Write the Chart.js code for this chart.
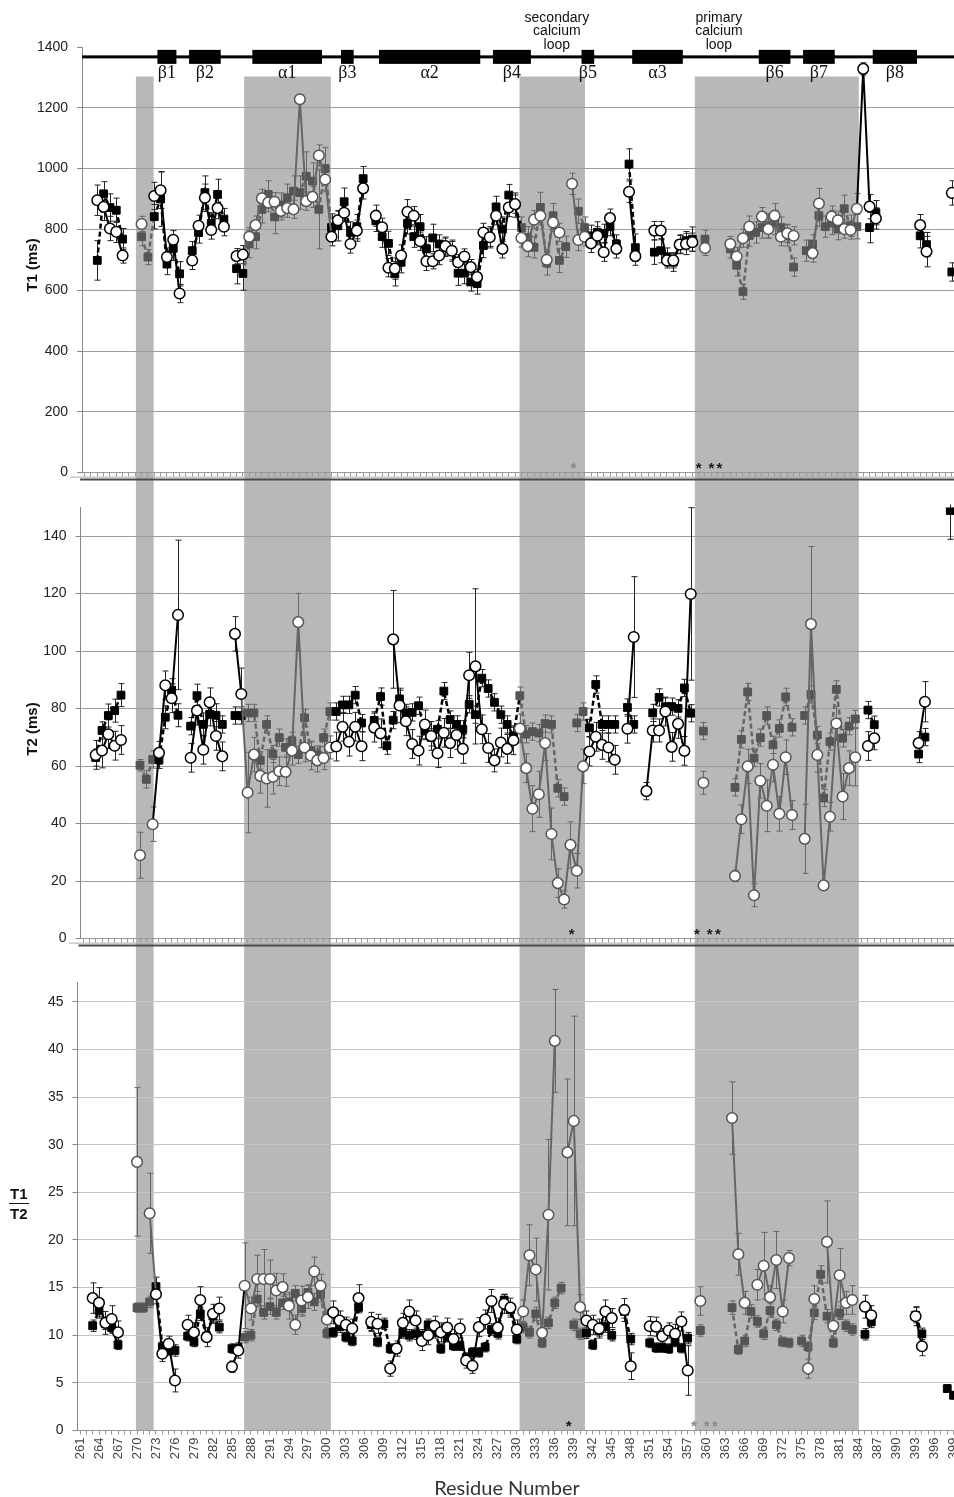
<!DOCTYPE html>
<html>
<head>
<meta charset="utf-8">
<title>T1, T2 and T1/T2 by residue</title>
<script src="https://cdn.jsdelivr.net/npm/chart.js@4.4.1/dist/chart.umd.min.js"></script>
<style>
  html, body { margin: 0; padding: 0; background: #fff; }
  body { width: 954px; height: 1497px; position: relative; overflow: hidden; font-family: "Liberation Sans", Arial, sans-serif; }
  canvas { position: absolute; left: 0; }
  #c1 { top: 0; }
  #c2 { top: 490px; }
  #c3 { top: 956px; }
  .ytitle { position: absolute; font-weight: bold; font-size: 15px; color: #111; white-space: nowrap;
            transform: translate(-50%, -50%) rotate(-90deg); }
  #frac { position: absolute; left: 9px; top: 1184px; font-weight: bold; font-size: 15px; color: #111; text-align: center; line-height: 19px; }
  #frac .num { border-bottom: 1.5px solid #111; padding: 0 1px; }
  #xtitle { position: absolute; left: 397px; width: 220px; top: 1475px; text-align: center; font-family: Lato, "Open Sans", sans-serif; font-size: 20px; color: #333; }
</style>
</head>
<body>
<canvas id="c1" width="1000" height="490"></canvas>
<canvas id="c2" width="1000" height="466"></canvas>
<canvas id="c3" width="1000" height="541"></canvas>
<div class="ytitle" style="left:31px; top:265px;">T1 (ms)</div>
<div class="ytitle" style="left:31px; top:729px;">T2 (ms)</div>
<div id="frac"><div class="num">T1</div><div>T2</div></div>
<div id="xtitle">Residue Number</div>

<script>
const _ = null;

// residues 263..399, one entry per residue
const firstResidue = 263, lastResidue = 399;
const residues = Array.from({ length: lastResidue - firstResidue + 1 }, (_v, i) => firstResidue + i);

const xTickLabels = [261, 264, 267, 270, 273, 276, 279, 282, 285, 288, 291, 294, 297, 300, 303, 306,
  309, 312, 315, 318, 321, 324, 327, 330, 333, 336, 339, 342, 345, 348, 351, 354, 357, 360, 363, 366,
  369, 372, 375, 378, 381, 384, 387, 390, 393, 396, 399];
const t1Ticks = [0, 200, 400, 600, 800, 1000, 1200, 1400];
const t2Ticks = [0, 20, 40, 60, 80, 100, 120, 140];
const ratioTicks = [0, 5, 10, 15, 20, 25, 30, 35, 40, 45];

// T1 (ms)
const t1Filled = [
  /*263*/ 698, 917, 872, 863, 768, _, _, 776, 709, 842,
  /*273*/ 900, 686, 738, 654, _, 730, 790, 921, 820, 915,
  /*283*/ 834, _, 671, 655, 752, 776, 866, 915, 841, 880,
  /*293*/ 904, 926, 921, 975, 959, 866, 1000, 806, 812, 891,
  /*303*/ 790, 809, 967, _, 828, 776, 754, 654, 692, 820,
  /*313*/ 776, 809, 736, 772, 752, 741, 730, 656, 656, 627,
  /*323*/ 622, 747, 774, 874, 801, 913, 880, 806, 774, 741,
  /*333*/ 872, 690, 845, 698, 743, _, 860, 806, 779, 790,
  /*343*/ 787, 809, 752, _, 1015, 740, _, _, 725, 730,
  /*353*/ 709, 692, 752, 763, 768, _, 768, _, _, _,
  /*363*/ 736, 682, 595, 780, 790, 806, 812, 823, 806, 780,
  /*373*/ 676, _, 730, 752, 845, 809, 823, 801, 868, 812,
  /*383*/ 809, _, 806, 855, _, _, _, _, _, _,
  /*393*/ 779, 750, _, _, _, 660, _
];
const t1Open = [
  /*263*/ 896, 874, 803, 792, 714, _, _, 818, _, 910,
  /*273*/ 929, 709, 766, 589, _, 698, 812, 904, 798, 870,
  /*283*/ 809, _, 712, 717, 776, 814, 902, 888, 891, 861,
  /*293*/ 870, 866, 1228, 893, 907, 1043, 964, 776, 830, 855,
  /*303*/ 752, 796, 935, _, 845, 807, 674, 671, 714, 858,
  /*313*/ 845, 761, 695, 695, 714, 745, 730, 692, 711, 676,
  /*323*/ 643, 790, 774, 845, 736, 872, 883, 772, 745, 832,
  /*333*/ 845, 700, 823, 790, _, 950, 765, 776, 754, 779,
  /*343*/ 725, 837, 736, _, 924, 712, _, _, 796, 796,
  /*353*/ 698, 698, 750, 752, 758, _, 739, _, _, _,
  /*363*/ 752, 711, 771, 809, _, 842, 801, 845, 776, 787,
  /*373*/ 779, _, _, 722, 885, _, 842, 830, 801, 798,
  /*383*/ 868, 1328, 875, 836, _, _, _, _, _, _,
  /*393*/ 814, 727, _, _, _, 920, _
];
const t1FilledErr = [
  /*263*/ 65, 40, 45, 40, 35, _, _, 30, 25, 40,
  /*273*/ 90, 35, 40, 40, _, 30, 35, 55, 35, 50,
  /*283*/ 35, _, 50, 55, 45, 40, 45, 45, 55, 40,
  /*293*/ 45, 50, 55, 80, 60, 130, 70, 45, 50, 45,
  /*303*/ 35, 40, 40, _, 35, 35, 40, 40, 35, 35,
  /*313*/ 35, 40, 40, 45, 30, 30, 35, 40, 35, 30,
  /*323*/ 35, 40, 35, 35, 40, 35, 40, 35, 35, 35,
  /*333*/ 50, 40, 40, 40, 35, _, 40, 35, 35, 35,
  /*343*/ 30, 30, 30, _, 50, 45, _, _, 40, 40,
  /*353*/ 30, 30, 30, 30, 40, _, 30, _, _, _,
  /*363*/ 30, 35, 25, 35, 35, 35, 40, 40, 35, 35,
  /*373*/ 30, _, 35, 30, 35, 35, 40, 35, 45, 35,
  /*383*/ 40, _, 50, 40, _, _, _, _, _, _,
  /*393*/ 40, 40, _, _, _, 30, _
];
const t1OpenErr = [
  /*263*/ 50, 45, 40, 35, 25, _, _, 25, _, 45,
  /*273*/ 60, 30, 30, 30, _, 30, 35, 45, 30, 35,
  /*283*/ 30, _, 25, 30, 30, 30, 30, 30, 30, 30,
  /*293*/ 30, 30, 15, 30, 35, 35, 40, 30, 30, 30,
  /*303*/ 30, 35, 35, _, 35, 30, 30, 35, 35, 40,
  /*313*/ 30, 30, 30, 25, 30, 30, 30, 25, 25, 25,
  /*323*/ 25, 30, 30, 30, 30, 30, 30, 30, 35, 30,
  /*333*/ 30, 25, 30, 30, _, 35, 35, 30, 30, 30,
  /*343*/ 30, 30, 30, _, 35, 30, _, _, 30, 30,
  /*353*/ 25, 25, 30, 35, 30, _, 25, _, _, _,
  /*363*/ 25, 30, 30, 35, _, 30, 30, 40, 30, 30,
  /*373*/ 30, _, _, 30, 50, _, 35, 30, 30, 30,
  /*383*/ 50, 20, 40, 35, _, _, _, _, _, _,
  /*393*/ 35, 50, _, _, _, 40, _
];

// T2 (ms)
const t2Filled = [
  /*263*/ 63, 72.4, 77.6, 79.3, 84.7, _, _, 60.3, 55.4, 62.3,
  /*273*/ 62.2, 77, 86.4, 77.7, _, 73.9, 84.5, 74.5, 78, 77.7,
  /*283*/ 74.5, _, 77.6, 77.6, 78.5, 78.5, 62, 74.5, 64.2, 69.9,
  /*293*/ 66.5, 68.8, 64, 76.8, 65.4, 64, 69.9, 79, 79, 81.3,
  /*303*/ 81.3, 84.7, 75, _, 75.9, 84.2, 67.1, 76, 83.4, 78.5,
  /*313*/ 78.7, 81, 72.2, 70, 72.8, 86.1, 76.2, 74.5, 72.8, 81.5,
  /*323*/ 77.9, 90.6, 87, 82.2, 77.9, 74.5, 70.5, 84.5, 71.1, 72,
  /*333*/ 71.5, 74.8, 74.5, 52.3, 49.4, _, 75, 79, 73.3, 88.4,
  /*343*/ 74.5, 74.5, 74.5, _, 80.4, 74.5, _, _, 78.5, 83.9,
  /*353*/ 80.7, 80.7, 80.1, 87.2, 78.4, _, 72.2, _, _, _,
  /*363*/ _, 52.6, 69.3, 85.8, 62.8, 69.9, 77.6, 67.4, 73.1, 84.1,
  /*373*/ 73.5, _, 77.6, 84.9, 70.8, 48.9, 68.5, 86.7, 69.7, 73.9,
  /*383*/ 76.4, _, 79.5, 74.4, _, _, _, _, _, _,
  /*393*/ 64.2, 70.1, _, _, _, 148.9, _
];
const t2Open = [
  /*263*/ 63.9, 65.4, 71.1, 67.1, 69.1, _, _, 29, _, 39.8,
  /*273*/ 64.6, 88.1, 83.6, 112.6, _, 62.9, 79.3, 65.7, 82.2, 70.5,
  /*283*/ 63.4, _, 106, 85.1, 50.8, 64, 56.6, 55.7, 56.3, 58.2,
  /*293*/ 58, 65.4, 110.1, 66.5, 63.7, 62, 62.8, 66.5, 66.8, 73.7,
  /*303*/ 68.5, 73.7, 66.9, _, 73.4, 71.4, _, 104.1, 81.1, 75.6,
  /*313*/ 67.7, 65.4, 74.5, 70.5, 64.5, 71.6, 68, 70.8, 66, 91.6,
  /*323*/ 94.7, 72.8, 66.3, 62, 68.2, 66, 69, 73.1, 59.3, 45.2,
  /*333*/ 50.2, 68, 36.4, 19.3, 13.6, 32.6, 23.6, 59.9, 65.1, 70.2,
  /*343*/ 67.4, 66.5, 62.2, _, 73, 104.9, _, 51.3, 72.4, 72.4,
  /*353*/ 79, 66.7, 74.7, 65.3, 119.9, _, 54.2, _, _, _,
  /*363*/ _, 21.8, 41.5, 59.9, 15.1, 54.9, 46.2, 60.5, 43.4, 63.1,
  /*373*/ 43, _, 34.7, 109.4, 63.9, 18.5, 42.4, 74.8, 49.4, 59.3,
  /*383*/ 63.1, _, 67, 69.7, _, _, _, _, _, _,
  /*393*/ 68, 82.4, _, _, _, _, _
];
const t2FilledErr = [
  /*263*/ 3, 3, 4, 4, 4, _, _, 2, 3, 3,
  /*273*/ 3, 4, 4, 4, _, 3, 4, 4, 4, 4,
  /*283*/ 3, _, 3, 3, 3, 3, 3, 3, 3, 3,
  /*293*/ 3, 3, 3, 3, 3, 3, 3, 3, 3, 3,
  /*303*/ 3, 3, 3, _, 3, 3, 3, 3, 3, 3,
  /*313*/ 3, 3, 3, 3, 3, 3, 3, 3, 3, 3,
  /*323*/ 3, 3, 3, 3, 3, 3, 3, 3, 3, 3,
  /*333*/ 3, 3, 3, 3, 3, _, 3, 3, 3, 3,
  /*343*/ 3, 3, 3, _, 3, 3, _, _, 3, 3,
  /*353*/ 3, 3, 3, 3, 3, _, 3, _, _, _,
  /*363*/ _, 3, 3, 3, 3, 3, 3, 3, 3, 3,
  /*373*/ 3, _, 3, 3, 3, 3, 3, 3, 3, 3,
  /*383*/ 3, _, 3, 3, _, _, _, _, _, _,
  /*393*/ 3, 3, _, _, _, 10, _
];
const t2OpenErr = [
  /*263*/ 5, 6, 5, 5, 5, _, _, 8, _, 6,
  /*273*/ 4, 5, 5, 26, _, 5, 5, 5, 5, 5,
  /*283*/ 5, _, 6, 9, 14, 6, 6, 10, 6, 5,
  /*293*/ 5, 5, 10, 5, 5, 4, 4, 4, 5, 5,
  /*303*/ 5, 5, 5, _, 5, 5, _, 17, 6, 5,
  /*313*/ 5, 5, 5, 5, 5, 5, 5, 5, 5, 8,
  /*323*/ 27, 5, 5, 4, 5, 5, 5, 5, 5, 8,
  /*333*/ 8, 6, 9, 5, 3, 8, 6, 6, 5, 5,
  /*343*/ 5, 5, 5, _, 5, 21, _, 3, 4, 4,
  /*353*/ 5, 5, 5, 5, 30, _, 4, _, _, _,
  /*363*/ _, 2, 5, 6, 4, 6, 9, 6, 6, 6,
  /*373*/ 5, _, 12, 27, 6, 1.5, 5, 6, 8, 6,
  /*383*/ 10, _, 5, 4, _, _, _, _, _, _,
  /*393*/ 4, 7, _, _, _, _, _
];

// T1/T2
const ratioFilled = [
  /*263*/ 11.0, 12.6, 11.2, 10.8, 9.0, _, _, 12.9, 12.9, 13.5,
  /*273*/ 15.1, 8.8, 8.4, 8.4, _, 9.9, 9.3, 12.25, 9.9, 12.0,
  /*283*/ 10.85, _, 8.6, 8.6, 9.8, 10.0, 13.8, 12.4, 13.0, 12.4,
  /*293*/ 13.4, 13.5, 14.4, 12.8, 14.5, 13.5, 14.3, 10.2, 10.3, 10.9,
  /*303*/ 9.8, 9.4, 12.95, _, 11.1, 9.3, 11.2, 8.6, 8.6, 10.3,
  /*313*/ 10.0, 10.15, 10.0, 11.1, 10.3, 8.6, 9.8, 8.9, 8.9, 7.6,
  /*323*/ 8.2, 8.2, 8.75, 10.6, 10.2, 13.7, 12.7, 9.6, 10.85, 10.3,
  /*333*/ 12.25, 9.2, 11.3, 13.4, 14.95, _, 11.1, 10.15, 10.25, 9.0,
  /*343*/ 10.5, 10.9, 10.0, _, 12.5, 9.6, _, _, 9.2, 8.7,
  /*353*/ 8.7, 8.6, 9.3, 8.65, 9.7, _, 10.5, _, _, _,
  /*363*/ _, 12.9, 8.5, 9.4, 12.5, 11.45, 10.15, 12.6, 11.1, 9.3,
  /*373*/ 9.2, _, 9.4, 8.8, 12.35, 16.4, 12.0, 9.2, 12.35, 11.0,
  /*383*/ 10.6, _, 10.1, 11.4, _, _, _, _, _, _,
  /*393*/ 12.1, 10.15, _, _, _, 4.4, 3.7
];
const ratioOpen = [
  /*263*/ 13.9, 13.4, 11.3, 11.7, 10.3, _, _, 28.2, _, 22.8,
  /*273*/ 14.3, 8.05, 9.1, 5.25, _, 11.1, 10.3, 13.7, 9.8, 12.25,
  /*283*/ 12.8, _, 6.7, 8.4, 15.2, 12.8, 15.9, 15.9, 15.9, 14.7,
  /*293*/ 15.05, 13.1, 11.1, 13.65, 14.0, 16.7, 15.2, 11.65, 12.4, 11.55,
  /*303*/ 11.1, 10.7, 13.9, _, 11.4, 11.2, _, 6.5, 8.6, 11.3,
  /*313*/ 12.5, 11.55, 9.4, 10.0, 11.0, 10.3, 10.8, 9.6, 10.7, 7.35,
  /*323*/ 6.8, 10.85, 11.65, 13.6, 10.8, 13.3, 12.9, 10.6, 12.5, 18.4,
  /*333*/ 16.9, 10.25, 22.65, 40.9, _, 29.2, 32.5, 12.95, 11.55, 11.1,
  /*343*/ 10.7, 12.5, 11.8, _, 12.65, 6.75, _, _, 10.95, 10.9,
  /*353*/ 9.9, 10.5, 10.15, 11.45, 6.3, _, 13.6, _, _, _,
  /*363*/ _, 32.8, 18.5, 13.4, _, 15.3, 17.3, 14.0, 17.9, 12.5,
  /*373*/ 18.1, _, _, 6.5, 13.8, _, 19.8, 11.0, 16.3, 13.4,
  /*383*/ 13.7, _, 13.0, 12.1, _, _, _, _, _, _,
  /*393*/ 12.0, 8.85, _, _, _, _, _
];
const ratioFilledErr = [
  /*263*/ 0.6, 0.6, 0.6, 0.6, 0.5, _, _, 0.5, 0.5, 0.6,
  /*273*/ 1.0, 0.5, 0.5, 0.6, _, 0.5, 0.5, 0.7, 0.5, 0.6,
  /*283*/ 0.6, _, 0.5, 0.5, 0.6, 0.6, 0.8, 0.7, 0.8, 0.7,
  /*293*/ 0.7, 0.8, 0.8, 0.8, 0.8, 0.9, 0.8, 0.5, 0.5, 0.6,
  /*303*/ 0.5, 0.5, 0.6, _, 0.6, 0.5, 0.6, 0.5, 0.5, 0.6,
  /*313*/ 0.6, 0.6, 0.6, 0.6, 0.6, 0.5, 0.5, 0.5, 0.5, 0.5,
  /*323*/ 0.5, 0.5, 0.5, 0.6, 0.6, 0.6, 0.6, 0.5, 0.6, 0.6,
  /*333*/ 0.7, 0.5, 0.6, 0.6, 0.6, _, 0.6, 0.6, 0.6, 0.5,
  /*343*/ 0.6, 0.6, 0.6, _, 0.7, 0.6, _, _, 0.5, 0.5,
  /*353*/ 0.5, 0.5, 0.5, 0.5, 0.6, _, 0.6, _, _, _,
  /*363*/ _, 0.7, 0.5, 0.6, 0.7, 0.6, 0.6, 0.7, 0.6, 0.5,
  /*373*/ 0.5, _, 0.6, 0.5, 0.7, 0.9, 0.7, 0.5, 0.7, 0.6,
  /*383*/ 0.6, _, 0.6, 0.6, _, _, _, _, _, _,
  /*393*/ 0.8, 0.6, _, _, _, 0.4, 0.4
];
const ratioOpenErr = [
  /*263*/ 1.6, 1.6, 1.2, 1.4, 1.2, _, _, 7.8, _, 4.2,
  /*273*/ 1.0, 0.8, 0.8, 1.2, _, 1.0, 1.0, 1.4, 1.0, 1.0,
  /*283*/ 1.2, _, 0.6, 0.8, 4.5, 1.2, 2.5, 3.1, 2.0, 1.8,
  /*293*/ 1.4, 1.4, 1.0, 1.5, 1.2, 1.5, 1.2, 1.0, 1.2, 1.0,
  /*303*/ 0.8, 1.0, 1.4, _, 1.0, 1.0, _, 0.8, 0.8, 1.0,
  /*313*/ 1.2, 1.0, 1.0, 1.0, 1.0, 1.0, 1.0, 1.0, 1.0, 0.8,
  /*323*/ 0.8, 1.0, 1.0, 1.2, 1.0, 1.0, 1.0, 1.0, 1.2, 3.2,
  /*333*/ 3.3, 1.0, 7.9, 5.4, _, 7.7, 11, 1.3, 1.0, 1.0,
  /*343*/ 1.0, 1.2, 1.0, _, 1.2, 1.4, _, _, 1.0, 1.0,
  /*353*/ 0.8, 0.8, 1.0, 1.0, 2.6, _, 1.5, _, _, _,
  /*363*/ _, 3.8, 2.2, 1.2, _, 1.6, 3.5, 1.2, 3.0, 1.2,
  /*373*/ 0.8, _, _, 1.0, 1.4, _, 4.3, 1.2, 2.8, 1.2,
  /*383*/ 1.5, _, 1.2, 1.0, _, _, _, _, _, _,
  /*393*/ 1.0, 1.0, _, _, _, _, _
];

// grey bands (residue units of the T1 panel)
const shadeStart = [269.1, 286.2, 329.7, 357.4];
const shadeEnd = [271.9, 299.9, 340.05, 383.3];

// secondary structure across the top
const structLabels = ['β1', 'β2', 'α1', 'β3', 'α2', 'β4', 'β5', 'α3', 'β6', 'β7', 'β8'];
const structStart = [273, 278, 288, 302, 308, 326, 340, 348, 368, 375, 386];
const structEnd = [275, 282, 298, 303, 323, 331, 341, 355, 372, 379, 392];
const loopLabels = [['secondary', 'calcium', 'loop'], ['primary', 'calcium', 'loop']];
const loopCenters = [335.6, 361.2];

// significance marks
const starResidues = [338.2, 358, 360, 361.3];

const X_MIN = 260.6, X_MAX = 400.5, PX_PER_RES = 6.33, CANVAS_W = 1000;
const panelLeft = [82.1, 80.5, 77.5];
const SHADE = '#b8b8b8', GREY_MARK = '#555', GREY_LINE = '#666';
const STRUCT_LEVEL = 1367.5;

Chart.defaults.font.family = '"Liberation Sans", Arial, sans-serif';
Chart.defaults.color = '#222';

const panels = [
  { canvas: 'c1', padTop: 47, xAxisH: 11, yMax: 1400, yTicks: t1Ticks,
    filled: t1Filled, filledErr: t1FilledErr, open: t1Open, openErr: t1OpenErr,
    shadeFrom: 1303, labels: false, grid: '#9c9c9c', base: true,
    stars: ['#8a8a8a', '#1a1a1a', '#1a1a1a', '#1a1a1a'] },
  { canvas: 'c2', padTop: 15.7, xAxisH: 11, yMax: 150, yTicks: t2Ticks,
    filled: t2Filled, filledErr: t2FilledErr, open: t2Open, openErr: t2OpenErr,
    shadeFrom: null, labels: false, grid: '#9c9c9c', base: true,
    stars: ['#1a1a1a', '#1a1a1a', '#1a1a1a', '#1a1a1a'] },
  { canvas: 'c3', padTop: 26.8, xAxisH: 66.5, yMax: 47, yTicks: ratioTicks,
    filled: ratioFilled, filledErr: ratioFilledErr, open: ratioOpen, openErr: ratioOpenErr,
    shadeFrom: null, labels: true, grid: '#c4c4c4', base: false,
    stars: ['#1a1a1a', '#8a8a8a', '#8a8a8a', '#8a8a8a'] }
];

function points(values) {
  return residues.map((r, i) => ({ x: r, y: values[i] }));
}

function buildPanel(p) {
  const cfg = panels[p];
  const shift = (panelLeft[0] - panelLeft[p]) / PX_PER_RES;
  const shaded = v => {
    const u = v - shift;
    return shadeStart.some((s, k) => u >= s && u <= shadeEnd[k]);
  };
  const markColor = ctx => (ctx.parsed && shaded(ctx.parsed.x)) ? GREY_MARK : '#000';
  const segColor = ctx => shaded((ctx.p0.parsed.x + ctx.p1.parsed.x) / 2) ? GREY_LINE : '#000';
  const tickValues = [];
  for (let r = 261; r <= 400; r++) tickValues.push(r);
  const labelSet = new Set(xTickLabels);

  const decor = {
    id: 'decor',
    beforeDraw(chart) {
      const { ctx, chartArea, scales: { x, y } } = chart;
      const top = cfg.shadeFrom != null ? y.getPixelForValue(cfg.shadeFrom) : 0;
      const bottom = cfg.base ? chart.height : chartArea.bottom;
      ctx.save();
      ctx.fillStyle = SHADE;
      shadeStart.forEach((s, k) => {
        const x0 = x.getPixelForValue(s + shift);
        const x1 = x.getPixelForValue(shadeEnd[k] + shift);
        ctx.fillRect(x0, top, x1 - x0, bottom - top);
      });
      ctx.restore();
    },
    beforeDatasetsDraw(chart) {
      const { ctx, chartArea, scales: { x, y } } = chart;
      ctx.save();
      ctx.beginPath();
      ctx.rect(chartArea.left, chartArea.top - 3, chartArea.width, chartArea.height + 3);
      ctx.clip();
      ctx.lineWidth = 1;
      chart.data.datasets.forEach(ds => {
        ds.data.forEach((pt, i) => {
          const e = ds.errors[i];
          if (pt.y == null || e == null) return;
          const px = Math.round(x.getPixelForValue(pt.x)) + 0.5;
          const yHi = y.getPixelForValue(pt.y + e);
          const yLo = y.getPixelForValue(Math.max(0, pt.y - e));
          ctx.strokeStyle = shaded(pt.x) ? '#666' : '#222';
          ctx.beginPath();
          ctx.moveTo(px, yHi); ctx.lineTo(px, yLo);
          ctx.moveTo(px - 3, yHi); ctx.lineTo(px + 3, yHi);
          ctx.moveTo(px - 3, yLo); ctx.lineTo(px + 3, yLo);
          ctx.stroke();
        });
      });
      ctx.restore();
    },
    afterDraw(chart) {
      const { ctx, chartArea, scales: { x, y } } = chart;
      ctx.save();
      if (cfg.base) {
        ctx.strokeStyle = '#aaa';
        ctx.lineWidth = 1;
        ctx.beginPath();
        ctx.moveTo(chartArea.left - 12, chartArea.bottom + 4.5);
        ctx.lineTo(chart.width, chartArea.bottom + 4.5);
        ctx.stroke();
        ctx.strokeStyle = '#4a4a4a';
        ctx.lineWidth = 2;
        ctx.beginPath();
        ctx.moveTo(chartArea.left - 2, chartArea.bottom + 7);
        ctx.lineTo(chart.width, chartArea.bottom + 7);
        ctx.stroke();
      }
      // asterisks
      ctx.font = 'bold 15px "Liberation Sans", Arial, sans-serif';
      ctx.textAlign = 'center';
      ctx.textBaseline = 'alphabetic';
      const sy = y.getPixelForValue(0);
      starResidues.forEach((r, k) => {
        ctx.fillStyle = cfg.stars[k];
        ctx.fillText('*', x.getPixelForValue(r), sy);
      });
      if (p === 0) {
        const yl = y.getPixelForValue(STRUCT_LEVEL);
        ctx.fillStyle = '#000';
        ctx.fillRect(chartArea.left, yl - 1.5, chart.width - chartArea.left, 3);
        ctx.font = '18px "Liberation Serif", "DejaVu Serif", serif';
        ctx.textBaseline = 'middle';
        structStart.forEach((s, k) => {
          const x0 = x.getPixelForValue(s - 0.5);
          const x1 = x.getPixelForValue(structEnd[k] + 0.5);
          ctx.fillStyle = '#000';
          ctx.fillRect(x0, yl - 7, x1 - x0, 14);
          ctx.fillStyle = '#111';
          ctx.fillText(structLabels[k], (x0 + x1) / 2, yl + 16);
        });
        ctx.font = '14px "Liberation Sans", Arial, sans-serif';
        loopLabels.forEach((lines, k) => {
          const cx = x.getPixelForValue(loopCenters[k]);
          lines.forEach((t, j) => ctx.fillText(t, cx, yl - 39 + j * 13.5));
        });
      }
      ctx.restore();
    }
  };

  return new Chart(document.getElementById(cfg.canvas), {
    type: 'line',
    data: {
      datasets: [
        {
          label: 'open',
          data: points(cfg.open),
          errors: cfg.openErr,
          borderColor: '#000',
          borderWidth: 2,
          pointStyle: 'circle',
          pointRadius: 5.3,
          pointBorderWidth: 1.5,
          pointBackgroundColor: '#fff',
          pointBorderColor: markColor,
          segment: { borderColor: segColor },
          spanGaps: false
        },
        {
          label: 'filled',
          data: points(cfg.filled),
          errors: cfg.filledErr,
          borderColor: '#000',
          borderWidth: 2.5,
          borderDash: [5, 3],
          pointStyle: 'rect',
          pointRadius: 5.5,
          pointBorderWidth: 1,
          pointBackgroundColor: markColor,
          pointBorderColor: markColor,
          segment: { borderColor: segColor },
          spanGaps: false
        }
      ]
    },
    options: {
      responsive: false,
      devicePixelRatio: 1,
      animation: false,
      events: [],
      layout: { padding: { left: 0, top: cfg.padTop, bottom: 0,
        right: CANVAS_W - panelLeft[p] - (X_MAX - X_MIN) * PX_PER_RES } },
      plugins: { legend: { display: false }, tooltip: { enabled: false } },
      scales: {
        x: {
          type: 'linear', min: X_MIN, max: X_MAX,
          afterBuildTicks: s => { s.ticks = tickValues.map(v => ({ value: v })); },
          afterFit: s => { s.height = cfg.xAxisH; },
          grid: { drawOnChartArea: false, drawTicks: true, tickLength: 4, color: '#999' },
          border: { color: '#999' },
          ticks: {
            display: cfg.labels, autoSkip: false, maxRotation: 90, minRotation: 90,
            padding: 3, color: '#444', font: { size: 13 },
            callback: v => labelSet.has(v) ? String(v) : ''
          }
        },
        y: {
          min: 0, max: cfg.yMax,
          afterBuildTicks: s => { s.ticks = cfg.yTicks.map(v => ({ value: v })); },
          afterFit: s => { s.width = panelLeft[p]; },
          grid: {
            color: c => (c.tick && (c.tick.value === 0 || c.tick.value === cfg.yMax)) ? 'rgba(0,0,0,0)' : cfg.grid,
            tickColor: '#888', tickLength: 5
          },
          border: { color: '#888' },
          ticks: { padding: 9, color: '#222', font: { size: 14 }, callback: v => String(v) }
        }
      }
    },
    plugins: [decor]
  });
}

const charts = panels.map((_cfg, p) => buildPanel(p));
</script>
</body>
</html>
